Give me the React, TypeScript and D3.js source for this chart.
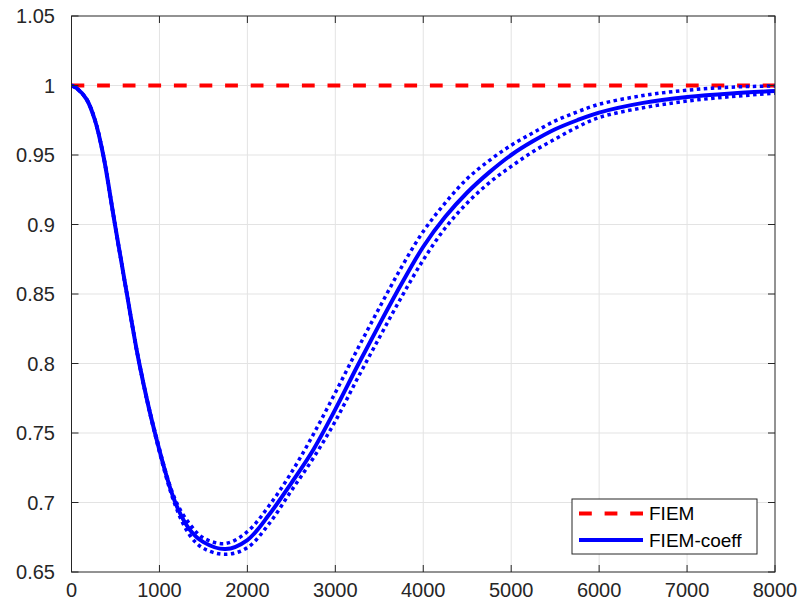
import React from 'react';
import * as d3 from 'd3';

// values
const xTicks = [0, 1000, 2000, 3000, 4000, 5000, 6000, 7000, 8000];
const yTicks = [0.65, 0.7, 0.75, 0.8, 0.85, 0.9, 0.95, 1, 1.05];

const fiemX = [0, 8000];
const fiemY = [1, 1];

const sampleX = [0, 60, 172, 267, 361, 494, 630, 771, 949, 1180, 1350, 1500, 1750, 2000, 2250, 2500, 2750, 3000, 3250, 3500, 3750, 4000, 4250, 4500, 4750, 5000, 5250, 5500, 5750, 6000, 6500, 7000, 7500, 8000];
const coeffY = [1, 0.998, 0.99, 0.975, 0.95, 0.9, 0.85, 0.8, 0.75, 0.7, 0.68, 0.6715, 0.6665, 0.673, 0.6915, 0.714, 0.738, 0.767, 0.798, 0.828, 0.857, 0.884, 0.9055, 0.923, 0.9375, 0.95, 0.96, 0.9685, 0.975, 0.9805, 0.9875, 0.9917, 0.9943, 0.996];
const upperY = [1, 0.998, 0.99, 0.975, 0.95, 0.9, 0.85, 0.8, 0.751, 0.702, 0.684, 0.6745, 0.6705, 0.679, 0.698, 0.7215, 0.749, 0.779, 0.81, 0.84, 0.869, 0.895, 0.9155, 0.933, 0.946, 0.957, 0.966, 0.9745, 0.981, 0.9865, 0.9928, 0.9966, 0.9988, 0.9997];
const lowerY = [1, 0.998, 0.99, 0.975, 0.95, 0.9, 0.85, 0.8, 0.749, 0.698, 0.676, 0.667, 0.6627, 0.6675, 0.685, 0.7085, 0.732, 0.7585, 0.789, 0.8185, 0.8475, 0.8745, 0.8975, 0.9155, 0.93, 0.9418, 0.9525, 0.9615, 0.97, 0.977, 0.984, 0.9888, 0.992, 0.9944];

const legendNames = ['FIEM', 'FIEM-coeff'];

const W = 798;
const H = 606;
const margin = { top: 16, right: 23, bottom: 34, left: 71.5 };
const axisColor = '#262626';
const font = '"Liberation Sans", Arial, Helvetica, sans-serif';

export default function App() {
  const x = d3.scaleLinear().domain([0, 8000]).range([margin.left, W - margin.right]);
  const y = d3.scaleLinear().domain([0.65, 1.05]).range([H - margin.bottom, margin.top]);

  const path = (xs: number[], ys: number[]) =>
    d3.line<number>()
      .x(i => x(xs[i]))
      .y(i => y(ys[i]))
      .curve(d3.curveCatmullRom.alpha(0.5))(d3.range(xs.length)) || '';

  const x0 = x.range()[0], x1 = x.range()[1];
  const y0 = y.range()[1], y1 = y.range()[0];
  const tick = 7;

  const lg = { x: 572, y: 499, w: 185, h: 55 };

  return (
    <svg width={W} height={H} style={{ position: 'absolute', left: 0, top: 0 }} fontFamily={font}>
      <defs>
        <clipPath id="plot">
          <rect x={x0} y={y0} width={x1 - x0} height={y1 - y0} />
        </clipPath>
      </defs>
      <rect x={x0} y={y0} width={x1 - x0} height={y1 - y0} fill="#fff" />
      {/* grid */}
      <g stroke="#e3e3e3" strokeWidth={1}>
        {xTicks.slice(1, -1).map(t => (
          <line key={'gx' + t} x1={x(t)} x2={x(t)} y1={y0} y2={y1} />
        ))}
        {yTicks.slice(1, -1).map(t => (
          <line key={'gy' + t} x1={x0} x2={x1} y1={y(t)} y2={y(t)} />
        ))}
      </g>
      {/* series */}
      <g clipPath="url(#plot)" fill="none">
        <path d={path(fiemX, fiemY)} stroke="#ff0000" strokeWidth={4} strokeDasharray="12.8,12.8" />
        <path d={path(sampleX, coeffY)} stroke="#0000ff" strokeWidth={4} />
        <path d={path(sampleX, upperY)} stroke="#0000ff" strokeWidth={3.5} strokeDasharray="3.5,3.5" />
        <path d={path(sampleX, lowerY)} stroke="#0000ff" strokeWidth={3.5} strokeDasharray="3.5,3.5" />
      </g>
      {/* box + ticks */}
      <g stroke={axisColor} strokeWidth={1} fill="none">
        <rect x={x0} y={y0} width={x1 - x0} height={y1 - y0} />
        {xTicks.map(t => (
          <g key={'tx' + t}>
            <line x1={x(t)} x2={x(t)} y1={y1} y2={y1 - tick} />
            <line x1={x(t)} x2={x(t)} y1={y0} y2={y0 + tick} />
          </g>
        ))}
        {yTicks.map(t => (
          <g key={'ty' + t}>
            <line x1={x0} x2={x0 + tick} y1={y(t)} y2={y(t)} />
            <line x1={x1} x2={x1 - tick} y1={y(t)} y2={y(t)} />
          </g>
        ))}
      </g>
      <g fill={axisColor} fontSize={20}>
        {xTicks.map(t => (
          <text key={'lx' + t} x={x(t)} y={597} textAnchor="middle">{t}</text>
        ))}
        {yTicks.map(t => (
          <text key={'ly' + t} x={55} y={y(t)} textAnchor="end" dominantBaseline="central">
            {String(+t.toFixed(2))}
          </text>
        ))}
      </g>
      {/* legend */}
      <g>
        <rect x={lg.x} y={lg.y} width={lg.w} height={lg.h} fill="#fff" stroke={axisColor} strokeWidth={1} />
        <line x1={579} x2={643} y1={513.5} y2={513.5} stroke="#ff0000" strokeWidth={4} strokeDasharray="12.8,12.8" />
        <line x1={579} x2={643} y1={540} y2={540} stroke="#0000ff" strokeWidth={4} />
        {legendNames.map((n, i) => (
          <text key={n} x={649} y={i === 0 ? 513.5 : 540} fontSize={19} fill="#000" dominantBaseline="central">{n}</text>
        ))}
      </g>
    </svg>
  );
}
